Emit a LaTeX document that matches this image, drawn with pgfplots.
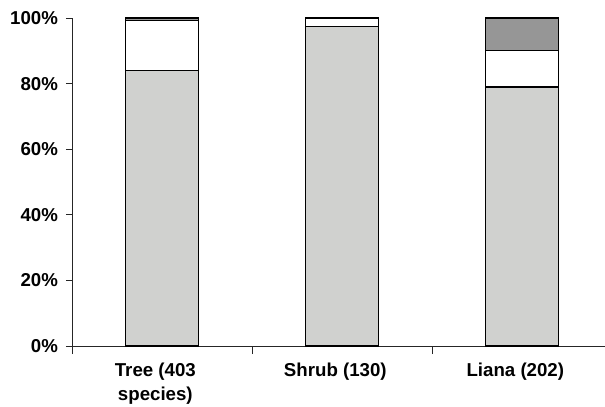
\documentclass[border=0pt]{standalone}
\usepackage{pgfplots}
\pgfplotsset{compat=1.18}
\usepackage{fontspec}
\setmainfont{Liberation Sans}
\definecolor{lgray}{RGB}{208,209,207}
\definecolor{dgray}{RGB}{150,150,150}
\begin{document}
\begin{tikzpicture}
\path[use as bounding box] (-54pt,-45pt) rectangle (399.75pt,259.5pt);
\begin{axis}[
  at={(0,0)}, anchor=south west,
  scale only axis, width=399.75pt, height=246pt,
  xmin=-0.5, xmax=2.4611, ymin=0, ymax=100,
  ybar stacked, bar width=54.75pt,
  axis lines=left, axis line style={-, line width=0.6pt, black!85},
  xtick={0,1,2},
  xticklabels={{Tree (403\\species)},{Shrub (130)},{Liana (202)}},
  major x tick style={draw=none},
  minor xtick={-0.5,0.5,1.5,2.5},
  minor x tick style={line width=0.6pt, black!85},
  ytick={0,20,40,60,80,100},
  yticklabel={\pgfmathprintnumber{\tick}\%},
  y tick style={line width=0.6pt, black!85},
  tick align=outside,
  major tick length=4.5pt, minor tick length=6pt,
  /pgf/number format/assume math mode=true,
  xticklabel style={align=center, font=\bfseries\fontsize{14}{18}\selectfont, yshift=-5pt, xshift=-5pt},
  yticklabel style={font=\bfseries\fontsize{14}{18}\selectfont, xshift=-2.5pt},
  every axis plot/.append style={draw=black, line width=1pt},
  clip=false,
]
\addplot[fill=lgray] coordinates {(0,84) (1,97.5) (2,79)};
\addplot[fill=white] coordinates {(0,15.2) (1,2.5) (2,11)};
\addplot[fill=dgray] coordinates {(0,0.8) (1,0) (2,10)};
\end{axis}
\end{tikzpicture}
\end{document}
